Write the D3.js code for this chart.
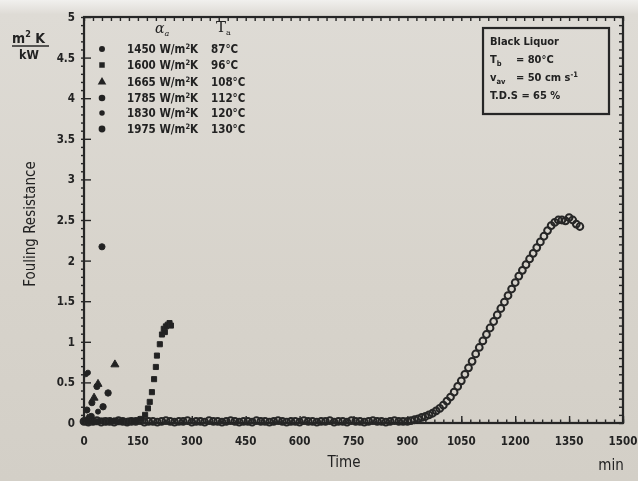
<!DOCTYPE html>
<html>
<head>
<meta charset="utf-8">
<script src="https://cdn.jsdelivr.net/npm/d3@7"></script>
<style>
  html, body { margin: 0; padding: 0; background: #d6d2ca; }
  svg text { font-family: "Liberation Sans Narrow", "DejaVu Sans Condensed", "Liberation Sans", sans-serif; fill: #222; font-weight: bold; }
</style>
</head>
<body>
<div id="chart"></div>
<script>
// ---- data ----
// series 1: 1450 W/m2K, 87 C  (long induction, big curve)
const s1Time = [0,12,24,36,48,60,72,84,96,108,120,132,144,156,168,180,192,204,216,228,240,252,264,276,288,300,312,324,336,348,360,372,384,396,408,420,432,444,456,468,480,492,504,516,528,540,552,564,576,588,600,612,624,636,648,660,672,684,696,708,720,732,744,756,768,780,792,804,816,828,840,852,864,876,888,
  900,910,920,930,940,950,960,970,980,990,1000,1010,1020,1030,1040,1050,1060,1070,1080,1090,1100,1110,1120,1130,1140,1150,1160,1170,1180,1190,1200,1210,1220,1230,1240,1250,1260,1270,1280,1290,1300,1310,1320,1330,1340,1350,1360,1370,1380];
const s1Value = [0.02,0.01,0.02,0.03,0.01,0.02,0.02,0.01,0.03,0.02,0.01,0.02,0.02,0.03,0.01,0.02,0.02,0.01,0.02,0.03,0.02,0.01,0.02,0.02,0.03,0.01,0.02,0.02,0.01,0.03,0.02,0.02,0.01,0.02,0.03,0.02,0.01,0.02,0.02,0.01,0.03,0.02,0.02,0.01,0.02,0.03,0.02,0.01,0.02,0.02,0.01,0.03,0.02,0.02,0.01,0.02,0.02,0.03,0.01,0.02,0.02,0.01,0.03,0.02,0.02,0.01,0.02,0.03,0.02,0.02,0.01,0.02,0.03,0.02,0.02,
  0.02,0.03,0.04,0.05,0.07,0.08,0.10,0.12,0.15,0.18,0.22,0.27,0.32,0.38,0.45,0.52,0.60,0.68,0.76,0.85,0.93,1.01,1.09,1.17,1.25,1.33,1.41,1.49,1.57,1.65,1.73,1.81,1.88,1.95,2.02,2.09,2.16,2.23,2.30,2.37,2.43,2.47,2.50,2.50,2.49,2.53,2.50,2.45,2.42];

// series 2: 1600 W/m2K, 96 C
const s2Time = [0,8,16,24,32,40,48,56,64,72,80,88,96,104,112,120,128,136,144,152,160,170,178,183,189,195,200,203,211,217,222,225,228,233,238,242];
const s2Value = [0.02,0.01,0.03,0.02,0.01,0.02,0.03,0.02,0.01,0.02,0.02,0.03,0.01,0.02,0.02,0.01,0.03,0.02,0.02,0.03,0.05,0.10,0.18,0.26,0.38,0.54,0.69,0.83,0.97,1.09,1.16,1.12,1.19,1.21,1.23,1.20];

// series 3..6: fast fouling, first hour or so
const s3Time = [10,28,39,86];
const s3Value = [0.05,0.31,0.48,0.72];
const s4Time = [8,22,36,50];
const s4Value = [0.16,0.25,0.45,2.17];
const s5Time = [5,11,39];
const s5Value = [0.60,0.62,0.14];
const s6Time = [20,53,67];
const s6Value = [0.08,0.20,0.37];

const legendFlux = ["1450", "1600", "1665", "1785", "1830", "1975"];
const legendTemp = ["87°C", "96°C", "108°C", "112°C", "120°C", "130°C"];

const xTicks = [0,150,300,450,600,750,900,1050,1200,1350,1500];
const yTicks = [0,0.5,1,1.5,2,2.5,3,3.5,4,4.5,5];

// ---- layout ----
const width = 638, height = 481;
const plotL = 84, plotR = 623, plotT = 17, plotB = 423;
const ink = "#262626";

const svg = d3.select("#chart").append("svg")
  .attr("width", width).attr("height", height);

const defs = svg.append("defs");
const bg = defs.append("linearGradient").attr("id", "paper")
  .attr("x1", "0%").attr("x2", "0%").attr("y1", "0%").attr("y2", "100%");
bg.append("stop").attr("offset", "0%").attr("stop-color", "#f1f0ee");
bg.append("stop").attr("offset", "3%").attr("stop-color", "#dedbd5");
bg.append("stop").attr("offset", "60%").attr("stop-color", "#d7d3cb");
bg.append("stop").attr("offset", "100%").attr("stop-color", "#d3cfc7");
defs.append("filter").attr("id", "soft")
  .append("feGaussianBlur").attr("stdDeviation", 0.4);

svg.append("rect").attr("width", width).attr("height", height).attr("fill", "url(#paper)");

const g = svg.append("g").attr("filter", "url(#soft)");

const x = d3.scaleLinear().domain([0, 1500]).range([plotL, plotR]);
const y = d3.scaleLinear().domain([0, 5]).range([plotB, plotT]);

// frame
g.append("rect")
  .attr("x", plotL).attr("y", plotT)
  .attr("width", plotR - plotL).attr("height", plotB - plotT)
  .attr("fill", "none").attr("stroke", ink).attr("stroke-width", 2.2);

// ticks, inside on all sides
const xMinor = d3.range(0, 1501, 25);
const yMinor = d3.range(0, 51).map(d => d / 10);

g.append("g").attr("transform", `translate(0,${plotB})`)
  .call(d3.axisBottom(x).tickValues(xTicks).tickSize(-7).tickFormat(""))
  .call(a => a.select(".domain").remove());
g.append("g").attr("transform", `translate(0,${plotB})`)
  .call(d3.axisBottom(x).tickValues(xMinor).tickSize(-3.5).tickFormat(""))
  .call(a => a.select(".domain").remove());
g.append("g").attr("transform", `translate(0,${plotT})`)
  .call(d3.axisTop(x).tickValues(xMinor).tickSize(-4).tickFormat(""))
  .call(a => a.select(".domain").remove());
g.append("g").attr("transform", `translate(${plotL},0)`)
  .call(d3.axisLeft(y).tickValues(yTicks).tickSize(-7).tickFormat(""))
  .call(a => a.select(".domain").remove());
g.append("g").attr("transform", `translate(${plotL},0)`)
  .call(d3.axisLeft(y).tickValues(yMinor).tickSize(3).tickFormat(""))
  .call(a => a.select(".domain").remove());
g.append("g").attr("transform", `translate(${plotR},0)`)
  .call(d3.axisRight(y).tickValues(yMinor).tickSize(-4).tickFormat(""))
  .call(a => a.select(".domain").remove());
g.selectAll(".tick line").attr("stroke", ink).attr("stroke-width", 1.4);

// tick labels
g.selectAll(".xlab").data(xTicks).join("text")
  .attr("x", d => x(d)).attr("y", 445)
  .attr("text-anchor", "middle").attr("font-size", 11.5)
  .text(d => d);
g.selectAll(".ylab").data(yTicks).join("text")
  .attr("x", 75).attr("y", d => y(d) + 4)
  .attr("text-anchor", "end").attr("font-size", 11.5)
  .text(d => d);

// axis titles
g.append("text").attr("transform", "translate(35,224) rotate(-90)")
  .attr("text-anchor", "middle").attr("font-size", 15).style("font-weight", "normal")
  .text("Fouling Resistance");
g.append("text").attr("x", 344).attr("y", 467)
  .attr("text-anchor", "middle").attr("font-size", 15).style("font-weight", "normal").text("Time");
g.append("text").attr("x", 611).attr("y", 470)
  .attr("text-anchor", "middle").attr("font-size", 15).style("font-weight", "normal").text("min");

const unit = g.append("text").attr("x", 12).attr("y", 43).attr("font-size", 14);
unit.append("tspan").text("m");
unit.append("tspan").attr("dy", -6).attr("font-size", 9).text("2");
unit.append("tspan").attr("dy", 6).text(" K");
g.append("line").attr("x1", 12).attr("x2", 49).attr("y1", 46).attr("y2", 46)
  .attr("stroke", ink).attr("stroke-width", 1.5);
g.append("text").attr("x", 19).attr("y", 59).attr("font-size", 12.5).text("kW");

// markers (blurry dots in the print, only the second one is squarish)
const markers = [
  d3.symbolCircle, d3.symbolSquare, d3.symbolTriangle,
  d3.symbolCircle, d3.symbolCircle, d3.symbolCircle
];
const sizes = [24, 26, 28, 30, 20, 32];

function zip(t, v) { return t.map((d, i) => ({ t: d, v: v[i] })); }

const seriesList = [
  { data: zip(s1Time, s1Value), k: 0, open: true },
  { data: zip(s2Time, s2Value), k: 1, open: false },
  { data: zip(s3Time, s3Value), k: 2, open: false },
  { data: zip(s4Time, s4Value), k: 3, open: false },
  { data: zip(s5Time, s5Value), k: 4, open: false },
  { data: zip(s6Time, s6Value), k: 5, open: false }
];

seriesList.forEach(s => {
  g.append("g").selectAll("path").data(s.data).join("path")
    .attr("transform", d => `translate(${x(d.t)},${y(d.v)})`)
    .attr("d", d3.symbol().type(s.open ? d3.symbolCircle : markers[s.k]).size(s.open ? 36 : sizes[s.k]))
    .attr("fill", s.open ? "none" : "#222")
    .attr("stroke", "#262626")
    .attr("stroke-width", s.open ? 2 : 1);
});

// legend
g.append("text").attr("x", 155).attr("y", 33)
  .attr("font-size", 14).attr("font-style", "italic")
  .style("font-family", "DejaVu Serif, serif").style("font-weight", "normal")
  .call(t => { t.append("tspan").text("α"); t.append("tspan").attr("dy", 3).attr("font-size", 8).text("a"); });
g.append("text").attr("x", 216).attr("y", 32)
  .attr("font-size", 15)
  .style("font-family", "DejaVu Serif, serif").style("font-weight", "normal")
  .call(t => { t.append("tspan").text("T"); t.append("tspan").attr("dy", 3).attr("font-size", 8).text("a"); });

const rowY = [49, 65, 82, 98, 113, 129];
legendFlux.forEach((f, i) => {
  g.append("path")
    .attr("transform", `translate(102,${rowY[i]})`)
    .attr("d", d3.symbol().type(markers[i]).size(sizes[i] + 4))
    .attr("fill", "#222");
  const t = g.append("text").attr("x", 127).attr("y", rowY[i] + 4).attr("font-size", 11.5);
  t.append("tspan").text(f + " W/m");
  t.append("tspan").attr("dy", -4).attr("font-size", 7.5).text("2");
  t.append("tspan").attr("dy", 4).text("K");
  g.append("text").attr("x", 211).attr("y", rowY[i] + 4).attr("font-size", 11.5).text(legendTemp[i]);
});

// info box
g.append("rect").attr("x", 483).attr("y", 28).attr("width", 126).attr("height", 86)
  .attr("fill", "none").attr("stroke", ink).attr("stroke-width", 2.2);
const info = g.append("g");
info.append("text").attr("x", 490).attr("y", 45).attr("font-size", 11).text("Black Liquor");
info.append("text").attr("x", 490).attr("y", 63).attr("font-size", 11)
  .call(t => { t.append("tspan").text("T"); t.append("tspan").attr("dy", 3).attr("font-size", 7.5).text("b"); });
info.append("text").attr("x", 516).attr("y", 63).attr("font-size", 11).text("= 80°C");
info.append("text").attr("x", 490).attr("y", 81).attr("font-size", 11)
  .call(t => { t.append("tspan").text("v"); t.append("tspan").attr("dy", 3).attr("font-size", 7.5).text("av"); });
info.append("text").attr("x", 516).attr("y", 81).attr("font-size", 11)
  .call(t => { t.append("tspan").text("= 50 cm s"); t.append("tspan").attr("dy", -4).attr("font-size", 7.5).text("-1"); });
info.append("text").attr("x", 490).attr("y", 99).attr("font-size", 11).text("T.D.S  = 65 %");
</script>
</body>
</html>
